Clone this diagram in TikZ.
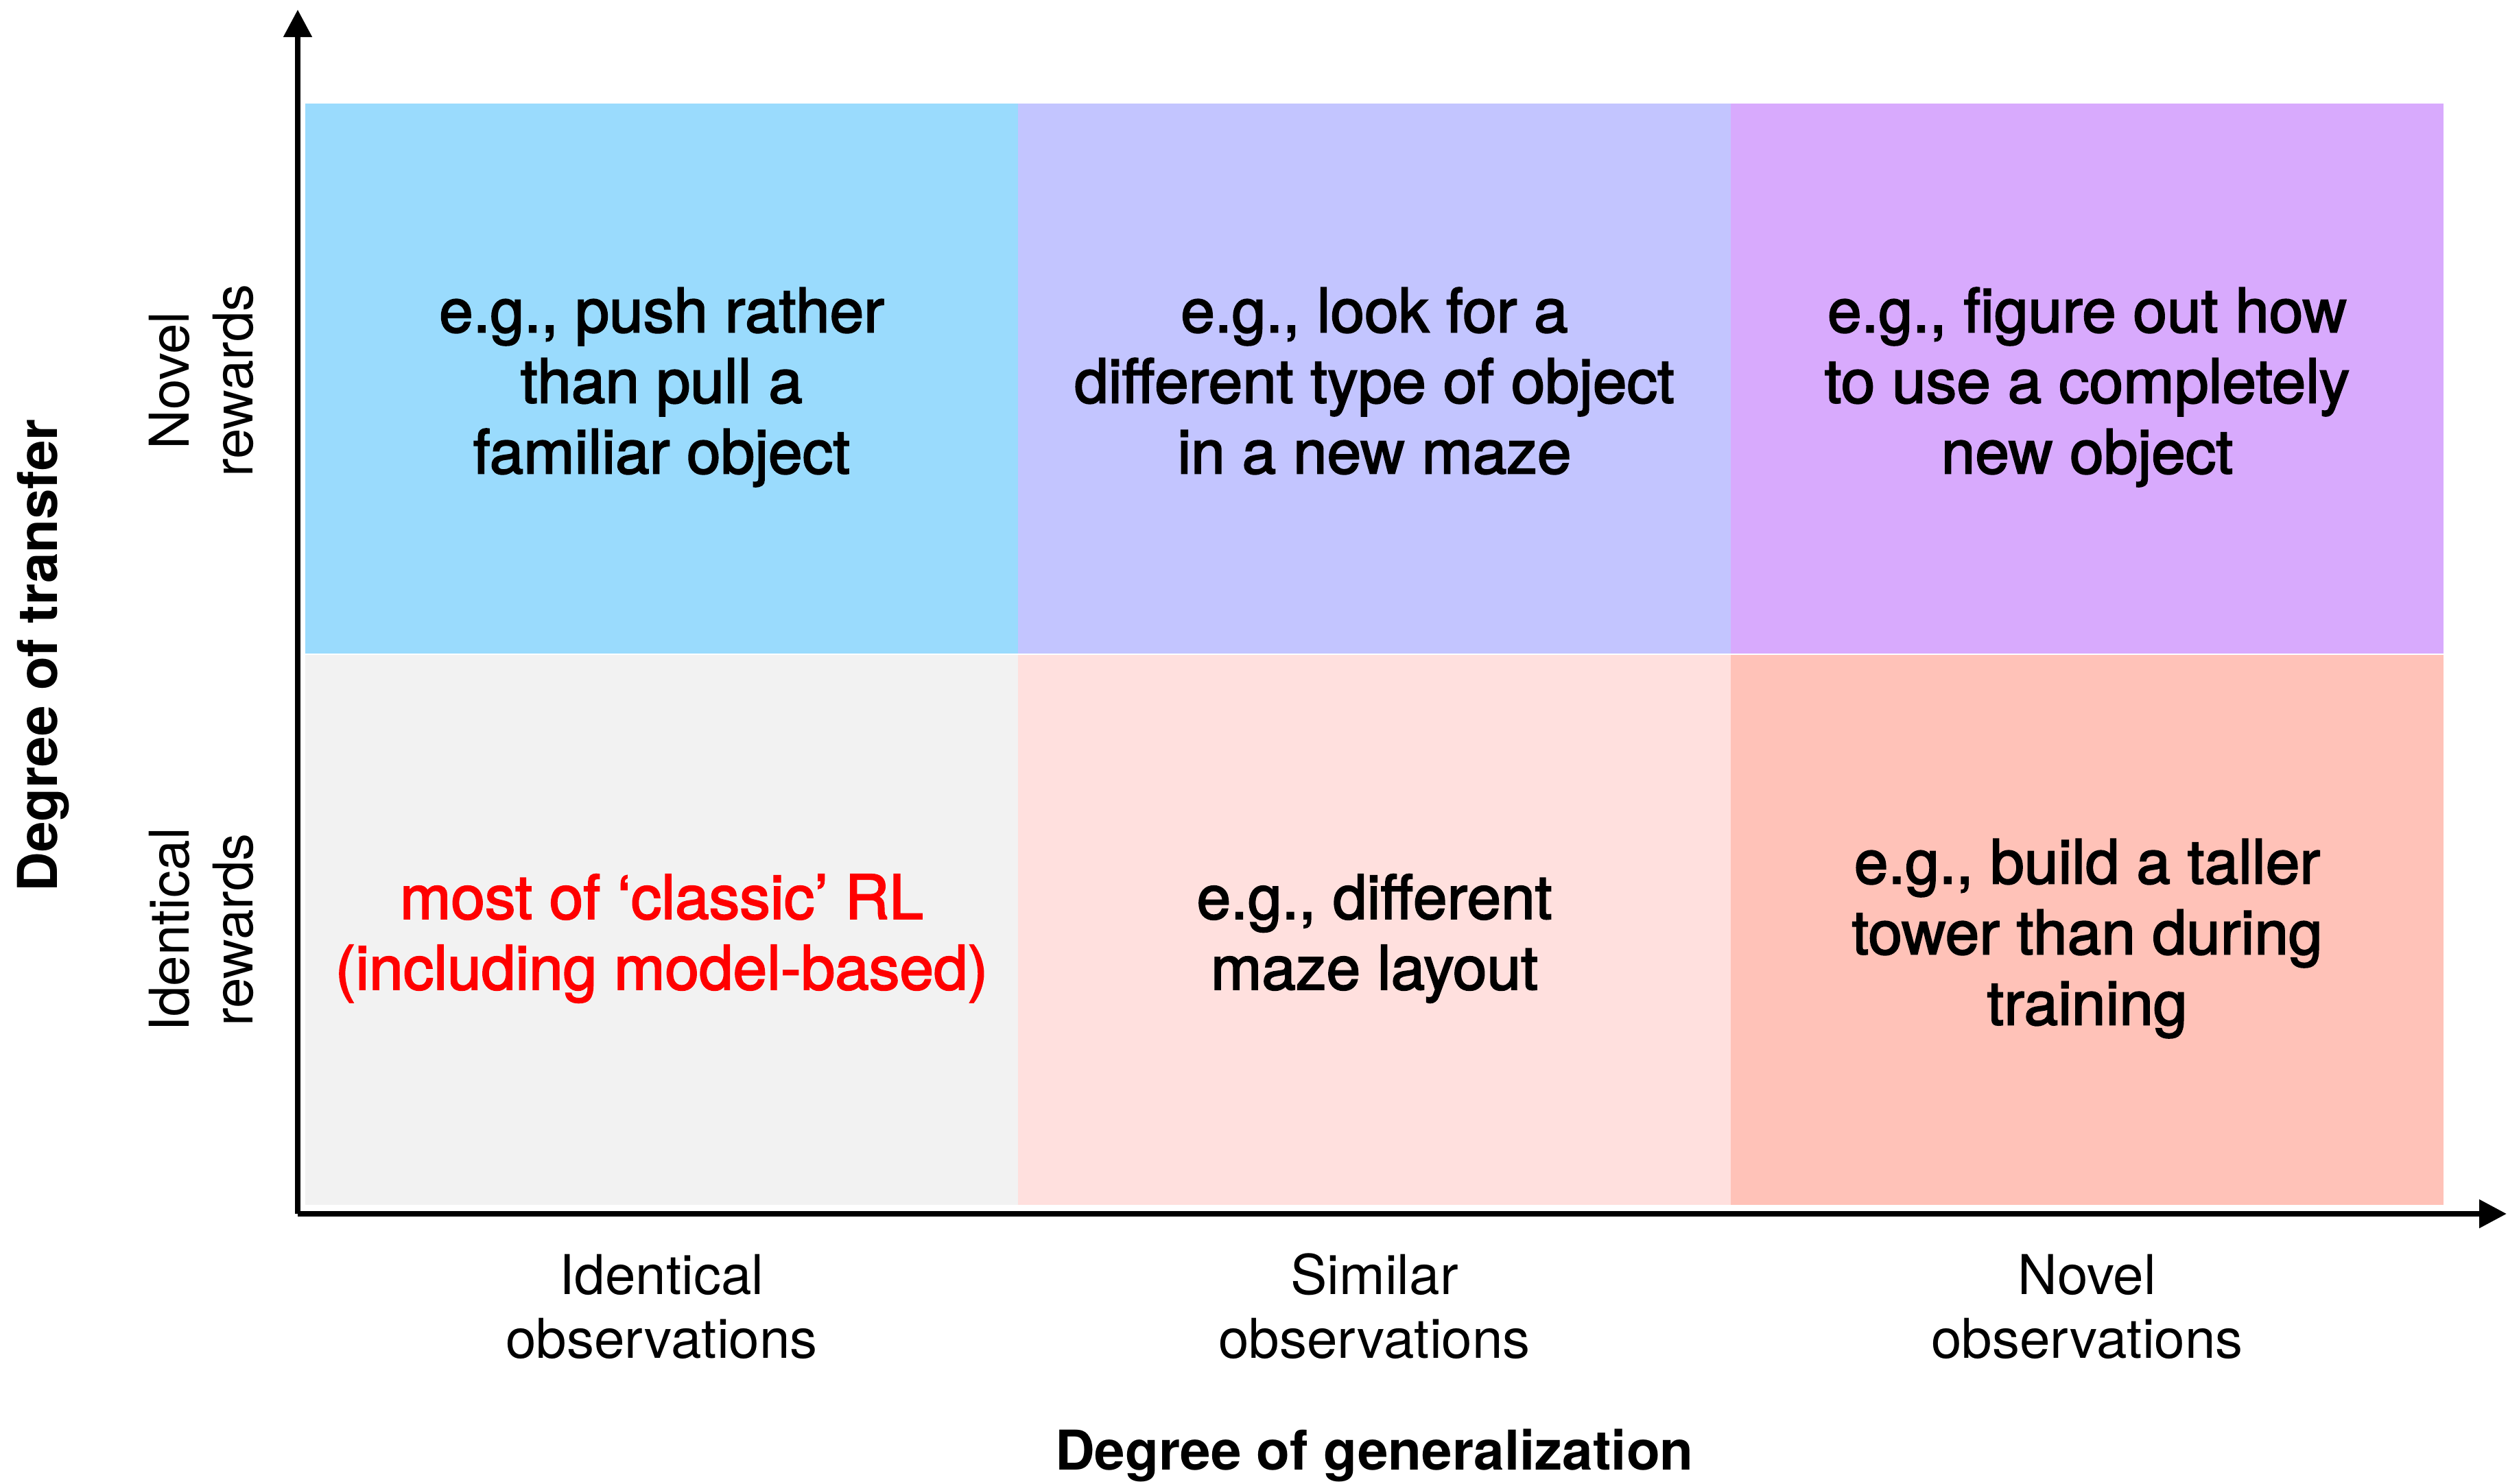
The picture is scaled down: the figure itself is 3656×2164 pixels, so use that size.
\documentclass[tikz,border=0pt]{standalone}
\usepackage{fontspec}
\setmainfont{TeX Gyre Heros}
\setsansfont{TeX Gyre Heros}
\newfontfamily\cellfont{TeX Gyre Heros}[FakeBold=2.2]
\usetikzlibrary{arrows.meta}

\definecolor{cellblue}{HTML}{9ADBFD}
\definecolor{celllavender}{HTML}{C3C5FF}
\definecolor{cellpurple}{HTML}{D8AAFD}
\definecolor{cellgrey}{HTML}{F2F2F2}
\definecolor{cellpink}{HTML}{FFE0DE}
\definecolor{cellsalmon}{HTML}{FFC2B8}
\definecolor{hotred}{HTML}{FF0000}

\tikzset{
  cell/.style={rectangle, inner sep=0pt, minimum width=259.75pt, minimum height=200.5pt},
  celltext/.style={align=center, inner sep=0pt, font=\cellfont\fontsize{22.3}{25.75}\selectfont},
  ticklabel/.style={align=center, inner sep=0pt, font=\fontsize{20}{23.25}\selectfont},
  axistitle/.style={inner sep=0pt, font=\bfseries\fontsize{20}{24}\selectfont},
  axisline/.style={line width=2pt, -{Triangle[width=10pt,length=10pt]}}
}

\begin{document}
\begin{tikzpicture}[x=0.25pt, y=-0.25pt]
  \useasboundingbox (0,0) rectangle (3656,2164);

  % grid of cells: columns = generalization, rows = transfer
  \node[cell, fill=cellblue]     (c11) at (964.5,552)   {};
  \node[cell, fill=celllavender] (c12) at (2003.5,552)  {};
  \node[cell, fill=cellpurple]   (c13) at (3042.5,552)  {};
  \node[cell, fill=cellgrey]     (c21) at (964.5,1356)  {};
  \node[cell, fill=cellpink]     (c22) at (2003.5,1356) {};
  \node[cell, fill=cellsalmon]   (c23) at (3042.5,1356) {};

  % cell examples; struts give every block the same line box
  \node[celltext] (t11) at ([yshift=-3.7pt]c11.center) {\strut e.g., push rather\\than pull a\\familiar object\strut};
  \node[celltext] (t12) at ([yshift=-3.7pt]c12.center) {\strut e.g., look for a\\different type of object\\in a new maze\strut};
  \node[celltext] (t13) at ([yshift=-3.7pt]c13.center) {\strut e.g., figure out how\\to use a completely\\new object\strut};
  \node[celltext, text=hotred] (t21) at ([yshift=-3.7pt]c21.center) {\strut most of ‘classic’ RL\\(including model-based)\strut};
  \node[celltext] (t22) at ([yshift=-3.7pt]c22.center) {\strut e.g., different\\maze layout\strut};
  \node[celltext] (t23) at ([yshift=-3.7pt]c23.center) {\strut e.g., build a taller\\tower than during\\training\strut};

  % axes
  \coordinate (origin) at (434,1770);
  \coordinate (ytip) at (434,14);
  \coordinate (xtip) at (3654,1770);
  \draw[axisline] (origin) -- (ytip);
  \draw[axisline] (origin) -- (xtip);

  % column labels
  \node[ticklabel] (obs1) at (964.5,1905)  {Identical\\observations};
  \node[ticklabel] (obs2) at (2003.5,1905) {Similar\\observations};
  \node[ticklabel] (obs3) at (3042.5,1905) {Novel\\observations};

  % row labels
  \node[ticklabel, rotate=90] (rew1) at (293,555)  {Novel\\rewards};
  \node[ticklabel, rotate=90] (rew2) at (293,1356) {Identical\\rewards};

  % axis titles
  \node[axistitle] (xtitle) at (2003.5,2122) {Degree of generalization};
  \node[axistitle, rotate=90] (ytitle) at (63,956) {Degree of transfer};
\end{tikzpicture}
\end{document}
